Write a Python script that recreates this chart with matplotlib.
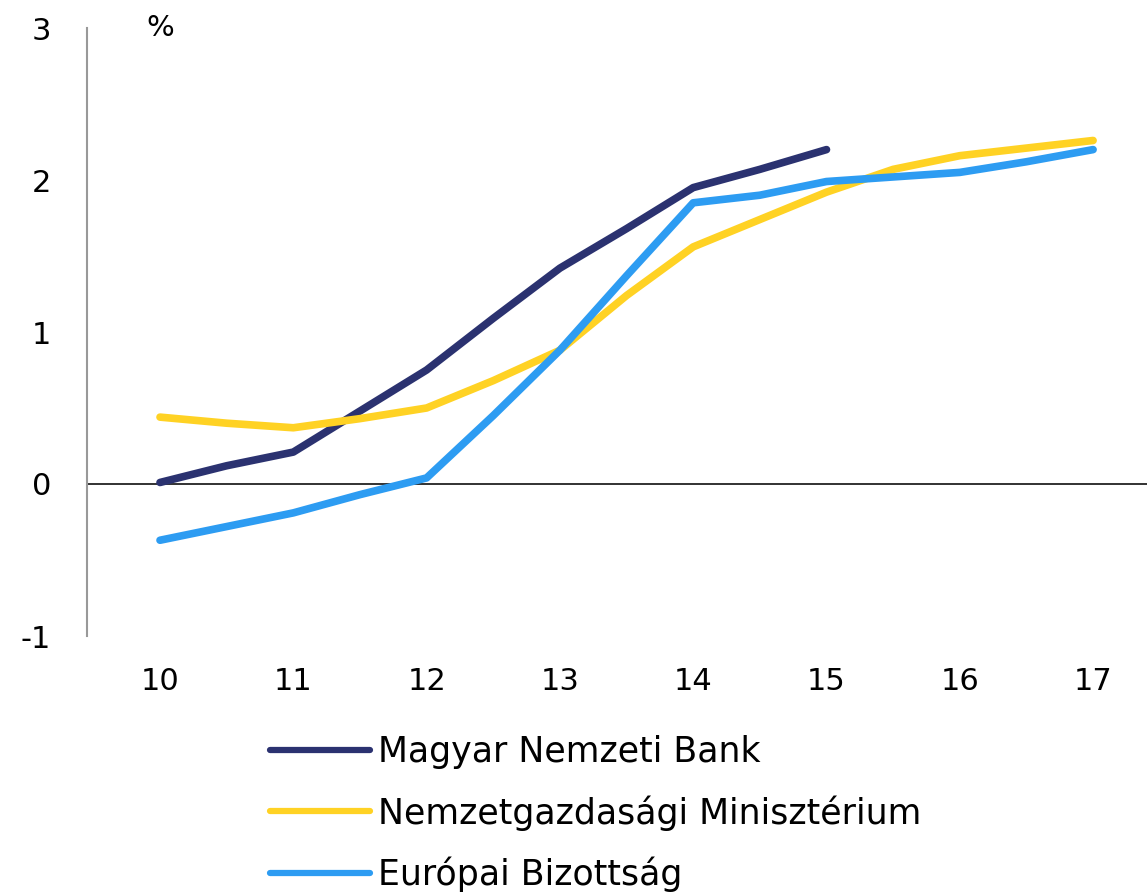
import matplotlib
matplotlib.use("Agg")
import matplotlib.pyplot as plt

plt.rcParams['font.family'] = ['DejaVu Sans']

x = [10, 10.5, 11, 11.5, 12, 12.5, 13, 13.5, 14, 14.5, 15, 15.5, 16, 16.5, 17]
mnb_x = [10, 10.5, 11, 11.5, 12, 12.5, 13, 13.5, 14, 14.5, 15]
mnb = [0.01, 0.12, 0.21, 0.48, 0.75, 1.09, 1.42, 1.68, 1.95, 2.07, 2.2]
ngm = [0.44, 0.40, 0.37, 0.43, 0.50, 0.68, 0.88, 1.24, 1.56, 1.74, 1.92, 2.07, 2.16, 2.21, 2.26]
eb = [-0.37, -0.28, -0.19, -0.07, 0.04, 0.45, 0.88, 1.37, 1.85, 1.90, 1.99, 2.02, 2.05, 2.12, 2.2]
xticks = [10, 11, 12, 13, 14, 15, 16, 17]
xticklabels = ["10", "11", "12", "13", "14", "15", "16", "17"]
yticks = [-1, 0, 1, 2, 3]
labels = ["Magyar Nemzeti Bank", "Nemzetgazdasági Minisztérium", "Európai Bizottság"]
colors = ["#2B3270", "#FFD224", "#2D9CF2"]

fig = plt.figure(figsize=(11.47, 8.92), dpi=100)
ax = fig.add_axes([87/1147, 1-636/892, 1-87/1147, (636-28)/892])

lw = 5.5
h1, = ax.plot(mnb_x, mnb, color=colors[0], lw=lw, solid_capstyle='round', label=labels[0])
h2, = ax.plot(x, ngm, color=colors[1], lw=lw, solid_capstyle='round', label=labels[1])
h3, = ax.plot(x, eb, color=colors[2], lw=lw, solid_capstyle='round', label=labels[2])
ax.axhline(0, color='#222222', lw=1.3, zorder=0)

ax.set_xlim(10 + (87-160)/133.3, 10 + (1147-160)/133.3)
ax.set_ylim(-1, 3)
ax.set_xticks(xticks)
ax.set_xticklabels(xticklabels)
ax.set_yticks(yticks)
ax.set_yticklabels(["-1", "0", "1", "2", "3"])
ax.tick_params(axis='both', length=0, labelsize=22)
ax.tick_params(axis='y', pad=26)
ax.tick_params(axis='x', pad=22)
for s in ['top', 'right', 'bottom']:
    ax.spines[s].set_visible(False)
ax.spines['left'].set_color('#999999')
ax.spines['left'].set_linewidth(1.5)

ax.text(10, 3, "%", fontsize=21, ha='center', va='center')

leg = fig.legend(handles=[h1, h2, h3], loc='upper left',
                 bbox_to_anchor=(270/1147, 1-735/892), frameon=False,
                 fontsize=25, handlelength=2.88, handletextpad=0.23,
                 labelspacing=0.75, borderpad=0, borderaxespad=0)
for line in leg.get_lines():
    line.set_linewidth(4.5)

fig.savefig("out.png", dpi=100)
